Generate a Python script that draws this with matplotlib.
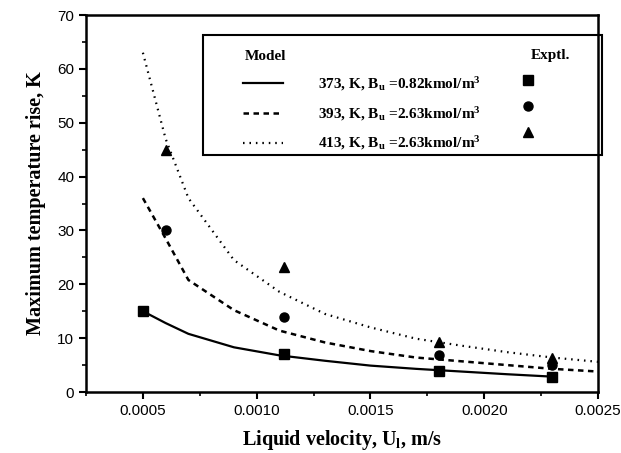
import matplotlib
matplotlib.use("Agg")
import matplotlib.pyplot as plt
from matplotlib.patches import Rectangle
from matplotlib.ticker import MultipleLocator

plt.rcParams['font.family'] = 'Liberation Sans'
plt.rcParams['mathtext.fontset'] = 'custom'
plt.rcParams['mathtext.rm'] = 'Liberation Serif'
plt.rcParams['mathtext.it'] = 'Liberation Serif:italic'
plt.rcParams['mathtext.bf'] = 'Liberation Serif:bold'

# model curves
model_u = [0.0005, 0.0006, 0.0007, 0.0009, 0.0011, 0.0013, 0.0015, 0.0017, 0.0019, 0.0021, 0.0023, 0.0025]
model_373 = [15.0, 12.8, 10.8, 8.3, 6.8, 5.8, 4.9, 4.3, 3.8, 3.3, 2.85]
model_393 = [36.0, 28.5, 20.8, 15.2, 11.4, 9.2, 7.6, 6.4, 5.7, 5.0, 4.3, 3.8]
model_413 = [63.0, 47.0, 36.0, 24.5, 18.6, 14.5, 12.0, 9.9, 8.6, 7.4, 6.4, 5.6]

# experimental points
exp_u_373 = [0.0005, 0.00112, 0.0018, 0.0023]
exp_373 = [15.0, 7.0, 3.9, 2.85]
exp_u = [0.0006, 0.00112, 0.0018, 0.0023]
exp_393 = [30.0, 14.0, 6.9, 5.0]
exp_413 = [45.0, 23.3, 9.2, 6.25]

labels = [r"373, K, B$_\mathbf{u}$ =0.82kmol/m$^\mathbf{3}$",
          r"393, K, B$_\mathbf{u}$ =2.63kmol/m$^\mathbf{3}$",
          r"413, K, B$_\mathbf{u}$ =2.63kmol/m$^\mathbf{3}$"]

fig = plt.figure(figsize=(6.21, 4.53), dpi=100)
ax = fig.add_axes([86 / 621, 1 - 392 / 453, 512 / 621, 377 / 453])

l1, = ax.plot(model_u[:len(model_373)], model_373, 'k-', lw=1.6)
l2, = ax.plot(model_u, model_393, 'k', ls=(0, (2.2, 1.8)), lw=1.8)
l3, = ax.plot(model_u, model_413, 'k', ls=(0, (0.7, 2.2)), lw=1.6)

m1, = ax.plot(exp_u_373, exp_373, 'ks', ms=6.5, ls='none')
m2, = ax.plot(exp_u, exp_393, 'ko', ms=6.5, ls='none')
m3, = ax.plot(exp_u, exp_413, 'k^', ms=7, ls='none')

ax.set_xlim(0.00025, 0.0025)
ax.set_ylim(0, 70)
ax.xaxis.set_major_locator(MultipleLocator(0.0005))
ax.xaxis.set_minor_locator(MultipleLocator(0.00025))
ax.yaxis.set_major_locator(MultipleLocator(10))
ax.yaxis.set_minor_locator(MultipleLocator(5))
ax.xaxis.set_major_formatter(plt.FuncFormatter(lambda v, p: "%.4f" % v))
ax.tick_params(which='major', direction='out', length=5, width=1.5, labelsize=11)
ax.tick_params(which='minor', direction='out', length=3, width=1.2)
for s in ax.spines.values():
    s.set_linewidth(1.8)

serif_bold = dict(family='Liberation Serif', weight='bold', size=14.5)
ax.set_xlabel(r"Liquid velocity, U$_\mathbf{l}$, m/s", fontdict=serif_bold, labelpad=7)
ax.set_ylabel("Maximum temperature rise, K", fontdict=serif_bold, labelpad=8)

# legend frame and headings
lx0 = (203 - 86) / 512
ly0 = (392 - 155) / 377
ax.add_patch(Rectangle((lx0, ly0), (602 - 203) / 512, (155 - 35) / 377,
                       transform=ax.transAxes, fill=False, lw=1.5, ec='k', clip_on=False, zorder=5))
ax.text((245 - 86) / 512, (392 - 56) / 377, "Model", transform=ax.transAxes,
        family='Liberation Serif', weight='bold', size=11, va='center', ha='left')
ax.text((550 - 86) / 512, (392 - 56) / 377, "Exptl.", transform=ax.transAxes,
        family='Liberation Serif', weight='bold', size=11, va='center', ha='center')

leg_font = dict(family='Liberation Serif', weight='bold', size=11)
leg1 = ax.legend([l1, l2, l3], labels, loc='upper left',
                 bbox_to_anchor=((243 - 86) / 512, (392 - 75) / 377),
                 frameon=False, borderpad=0, borderaxespad=0, handlelength=2.6,
                 handletextpad=2.3, labelspacing=0.78, prop=leg_font)
ax.add_artist(leg1)
ax.legend([m1, m2, m3], ["", "", ""], loc='upper left',
          bbox_to_anchor=((521 - 86) / 512, (392 - 75) / 377),
          frameon=False, borderpad=0, borderaxespad=0, handlelength=0.95,
          handletextpad=0, labelspacing=0.78, prop=leg_font)

fig.savefig("out.png", dpi=100)
